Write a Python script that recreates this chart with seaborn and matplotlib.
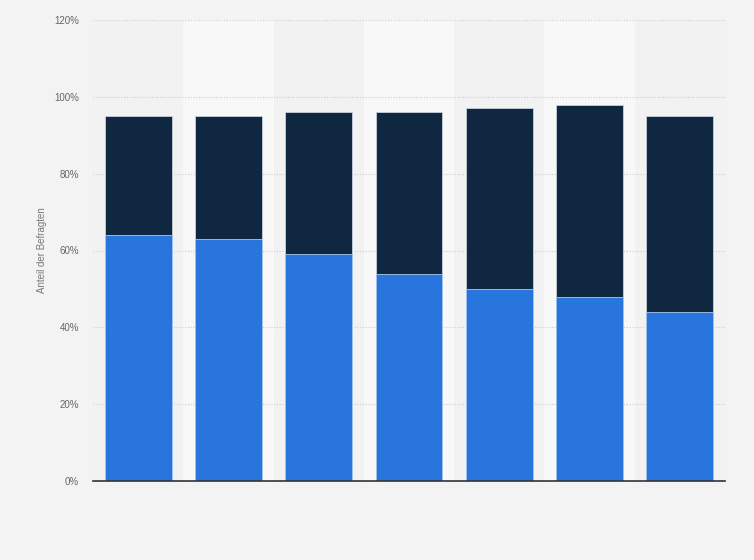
import matplotlib
matplotlib.use("Agg")
import matplotlib.pyplot as plt
import seaborn as sns
import pandas as pd

categories = ["1", "2", "3", "4", "5", "6", "7"]
share_blue = [64, 63, 59, 54, 50, 48, 44]
share_dark = [31, 32, 37, 42, 47, 50, 51]
y_ticks = [0, 20, 40, 60, 80, 100, 120]
y_label = "Anteil der Befragten"

totals = [b + d for b, d in zip(share_blue, share_dark)]
df = pd.DataFrame({"cat": categories, "blue": share_blue, "total": totals})

sns.set_theme(style="white")
plt.rcParams['font.family'] = ['Liberation Sans', 'DejaVu Sans']

fig = plt.figure(figsize=(7.54, 5.6), dpi=100, facecolor="#f3f3f3")
ax = fig.add_axes([93/754, 1-481/560, (725-93)/754, (481-20)/560])
ax.set_facecolor("#f2f2f2")

for i in range(len(categories)):
    if i % 2 == 1:
        ax.axvspan(i - 0.5, i + 0.5, color="#f8f8f8", zorder=0, lw=0)

sns.barplot(data=df, x="cat", y="total", color="#0f2740", width=0.74,
            edgecolor="#c8d0da", linewidth=0.6, saturation=1, ax=ax, zorder=3)
sns.barplot(data=df, x="cat", y="blue", color="#2876dd", width=0.74,
            edgecolor="#a9c8f0", linewidth=0.6, saturation=1, ax=ax, zorder=4)

ax.set_xlim(-0.5, len(categories) - 0.5)
ax.set_ylim(0, 120)
ax.set_yticks(y_ticks)
ax.set_yticklabels([f"{t}%" for t in y_ticks], fontsize=7, color="#666666")
ax.set_xticklabels([])
ax.set_xlabel("")
ax.set_ylabel(y_label, fontsize=7, color="#777777")
ax.yaxis.set_label_coords((47 - 93) / 632, 0.5)
ax.yaxis.grid(True, linestyle=(0, (1, 1.5)), color="#cccccc", linewidth=0.8, zorder=1)
ax.set_axisbelow(True)
ax.tick_params(axis="y", length=0, pad=10)
ax.tick_params(axis="x", length=0)
for s in ["top", "right", "left"]:
    ax.spines[s].set_visible(False)
ax.spines["bottom"].set_color("#333333")
ax.spines["bottom"].set_linewidth(1.2)
ax.spines["bottom"].set_zorder(5)

fig.savefig("out.png", dpi=100, facecolor=fig.get_facecolor())
